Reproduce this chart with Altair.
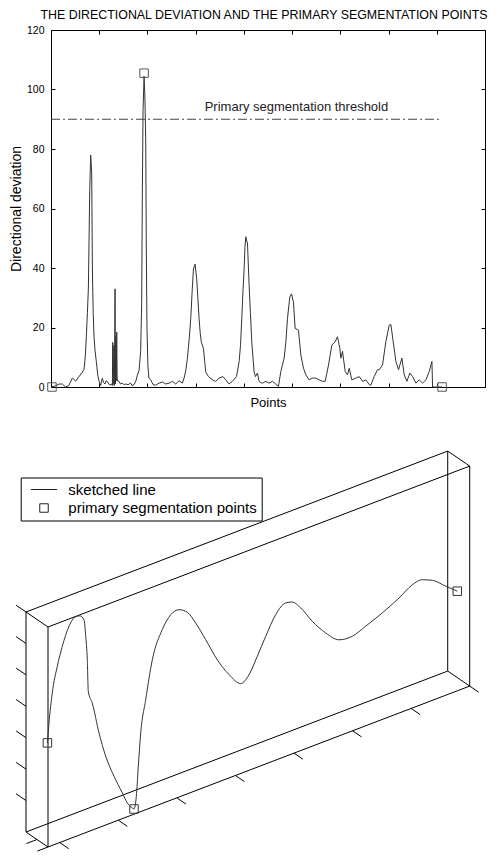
import altair as alt
import numpy as np
import pandas as pd
from itertools import product

FONT = "Liberation Sans"

# ---------------- upper plot: directional deviation ----------------
dev_x = [0, 10, 17, 23.5, 30, 37, 44.3, 51.2, 58.1, 65, 68.5, 71, 73.3, 75.5, 77.5, 80.3, 82.3, 84.4,
         85.8, 87.5, 89.2, 91.5, 94, 97, 99.6, 103, 106.5, 109, 112, 114, 116.9, 120, 122.4, 125,
         127.3, 128, 129, 130.5, 131.5, 132.8, 133.6, 134.5, 135.2, 136.3, 137.2, 138.3, 141.1, 144,
         148, 151, 154.9, 160, 165.3, 168, 172.2, 176, 179.1, 182.6, 185.9, 188, 189.5, 190.9, 193,
         194.4, 195.2, 196.5, 197.5, 199, 201, 203, 206.8, 211.7, 217.2, 224.1, 231, 237.9, 244.9, 251.8,
         258.7, 265.6, 272.5, 276, 279.5, 282.9, 286.5, 289.8, 293, 295.4, 298.8, 302.3, 304.5, 307.1,
         309.5, 311.9, 316.1, 318.5, 320.9, 326.5, 334.8, 341.7, 348.6, 356.9, 362.4, 369.4, 376.3,
         384.6, 390.1, 393, 395.6, 398, 400.5, 402.2, 404, 406, 407.4, 410.9, 413.5, 416.4, 421.2, 424,
         428.1, 431.6, 435, 438.5, 445.4, 452.4, 459.3, 466.2, 471.7, 476.6, 483.5, 487, 490.4, 495.2,
         498.7, 502.8, 506.3, 513.2, 518.1, 523.6, 528.4, 535.4, 542.3, 549.2, 556.1, 563, 568.6,
         575.5, 582.4, 589.3, 594.1, 599, 601, 604.5, 610.1, 614.9, 618.4, 623.9, 632.2, 639.1, 646,
         652.9, 659.9, 663.3, 670.2, 677.1, 680.6, 687.5, 694.4, 701.4, 704.8, 709.7, 715.2, 720.7,
         727.6, 732.5, 738, 744.2, 749.8, 756.7, 763.6, 770.5, 777.4, 784.4, 789.9, 791.3, 811]
dev_y = [0, 0.4, 1, 1, 0, 0.5, 3, 2, 3.5, 5, 6, 10, 17, 25, 33, 66, 78, 72,
         40, 25, 17, 12, 8.5, 4, 2, 0.5, 3, 1.5, 1, 2, 1.9, 1, 0.6, 1,
         0.5, 15, 0.8, 14, 0.5, 33, 1, 17, 2, 18.5, 3, 2, 1.9, 1,
         1.3, 0.8, 1, 0.8, 1.3, 0.5, 0.8, 2, 4, 5.5, 12, 28, 67, 93, 104.5,
         98.8, 94, 82, 50, 20, 7, 3, 2.4, 0.8, 0.6, 1.3, 1.7, 1, 1.3, 1.9,
         1, 2.1, 1.3, 3, 5.5, 9.7, 16, 23, 33, 39.7, 41.3, 36, 30, 23,
         18, 15, 13, 9, 5, 3.5, 2.4, 1.9, 3, 3.5, 2.4, 1, 1.9,
         3.5, 8.5, 14, 23, 32, 39.7, 47, 50.5, 49, 48.4, 34, 25, 15, 5, 3.5,
         4.7, 1.9, 1.5, 1.3, 1.9, 1.3, 1.9, 1, 0.2, 5.2, 9.7, 15, 23, 30.2,
         31.3, 28.5, 19.7, 19.1, 10.8, 6.3, 4.1, 2.4, 3, 3, 2.4, 1.9, 1.9,
         7.4, 14.1, 15.2, 16.9, 13, 9.7, 12, 5.2, 4.1, 6.3, 2.4, 3, 3.5, 1.9,
         2.4, 0.8, 0.6, 3.5, 5.8, 5.8, 7.4, 15.2, 20.8, 21, 15.2, 8.6, 5.8,
         9.7, 4.1, 1.9, 4.7, 3.5, 1.3, 2.4, 1.3, 2.4, 5.2, 8.6, 0, 0]
seg_x = [2, 193, 811]
seg_y = [0, 105.5, 0]
threshold = 90
thr_span = [0, 806]
thr_label = "Primary segmentation threshold"
thr_label_x = 509
x_ticks_top = list(range(0, 901, 100))
y_ticks_top = list(range(0, 121, 20))
X_DOM = [0, 900]
Y_DOM = [0, 120]

# ---------------- lower plot: sketched line in a 3-D box ----------------
curve_x = [0.79, 0.817, 0.873, 0.959, 1.044, 1.159, 1.261, 1.341, 1.415, 1.444, 1.471, 1.488, 1.556,
           1.671, 1.785, 1.927, 2.069, 2.154, 2.239, 2.268, 2.308, 2.342, 2.383, 2.468, 2.581, 2.751,
           2.895, 3.037, 3.178, 3.322, 3.493, 3.691, 3.890, 4.090, 4.232, 4.374, 4.517, 4.688, 4.858,
           4.971, 5.114, 5.313, 5.541, 5.768, 5.995, 6.224, 6.508, 6.793, 7.020, 7.191, 7.361, 7.590,
           7.788]
curve_z = [3.32, 3.93, 4.85, 5.64, 6.21, 6.77, 6.99, 6.97, 6.79, 6.25, 5.48, 4.46, 4.04,
           3.01, 2.19, 1.45, 0.82, 0.44, 0.22, 0.165, 0.54, 1.47, 2.50, 3.50, 4.69, 5.53,
           5.90, 5.96, 5.78, 5.33, 4.68, 3.90, 3.29, 2.86, 3.04, 3.53, 4.06, 4.63, 4.88,
           4.83, 4.54, 3.97, 3.44, 3.06, 3.01, 3.17, 3.39, 3.66, 3.92, 3.96, 3.82, 3.47,
           3.17]
seg3_idx = [0, 19, 52]
X_LIM = [0.8, 8.0]
D_LIM = [0.0, 1.0]
Z_LIM = [0.0, 7.0]
x_ticks3 = [1, 2, 3, 4, 5, 6, 7, 8]
z_ticks3 = [1, 2, 3, 4, 5, 6, 7]
d_ticks3 = [0.0, 0.5]
legend_labels = ["sketched line", "primary segmentation points"]

# viewing projection: screen direction of one unit along x, depth and z
PROJ_X = (58.57, 22.35)
PROJ_D = (-22.0, 15.0)
PROJ_Z = (0.0, 31.43)
U_DOM = [3, 437]
W_DOM = [0, 404]


def project(x, d, z):
    x = np.asarray(x, float) - X_LIM[0]
    d = np.asarray(d, float) - D_LIM[0]
    z = np.asarray(z, float) - Z_LIM[0]
    u = x * PROJ_X[0] + d * PROJ_D[0] + z * PROJ_Z[0]
    w = x * PROJ_X[1] + d * PROJ_D[1] + z * PROJ_Z[1]
    return u, w


# ---------- upper chart ----------
dev_df = pd.DataFrame({"x": dev_x, "y": dev_y})
seg_df = pd.DataFrame({"x": seg_x, "y": seg_y})
thr_df = pd.DataFrame({"x": thr_span, "y": [threshold] * 2})
lab_df = pd.DataFrame({"x": [thr_label_x], "y": [threshold], "t": [thr_label]})

xs = alt.Scale(domain=X_DOM, nice=False, zero=False)
ys = alt.Scale(domain=Y_DOM, nice=False, zero=False)

common_axis = dict(domain=False, grid=False, tickSize=4, tickColor="black", offset=-4,
                   labelFont=FONT, labelFontSize=10.5, labelColor="black",
                   titleFont=FONT, titleFontWeight="normal", titleColor="black")

line_layer = alt.Chart(dev_df).mark_line(color="#333", strokeWidth=1).encode(
    x=alt.X("x:Q", scale=xs, axis=alt.Axis(orient="bottom", values=x_ticks_top, labels=False,
                                           title="Points", titleFontSize=13, titlePadding=8.5,
                                           **common_axis)),
    y=alt.Y("y:Q", scale=ys, axis=alt.Axis(orient="left", values=y_ticks_top, labelPadding=7,
                                           title="Directional deviation", titleFontSize=14,
                                           titlePadding=3, **common_axis)),
    order="x:Q",
)

seg_layer = alt.Chart(seg_df).mark_point(shape="square", filled=False, size=72, color="#555",
                                         strokeWidth=1, opacity=1).encode(
    x=alt.X("x:Q", scale=xs, axis=alt.Axis(orient="top", values=x_ticks_top, labels=False,
                                           title=None, **common_axis)),
    y=alt.Y("y:Q", scale=ys, axis=alt.Axis(orient="right", values=y_ticks_top, labels=False,
                                           title=None, **common_axis)),
)

thr_layer = alt.Chart(thr_df).mark_line(color="#444", strokeWidth=1, strokeDash=[9, 3, 2, 3]).encode(
    x=alt.X("x:Q", scale=xs, axis=None),
    y=alt.Y("y:Q", scale=ys, axis=None),
)

txt_layer = alt.Chart(lab_df).mark_text(font=FONT, fontSize=13, color="#222", align="center",
                                        baseline="alphabetic", dy=-8.5).encode(
    x=alt.X("x:Q", scale=xs, axis=None),
    y=alt.Y("y:Q", scale=ys, axis=None),
    text="t:N",
)

top = alt.layer(line_layer, thr_layer, txt_layer, seg_layer).resolve_axis(
    x="independent", y="independent"
).properties(
    width=434, height=357,
    view=alt.ViewBackground(stroke="black", strokeWidth=1),
    title=alt.TitleParams("THE DIRECTIONAL DEVIATION AND THE PRIMARY SEGMENTATION POINTS",
                          font=FONT, fontSize=12.4, fontWeight="normal", color="black",
                          anchor="middle", offset=4, dx=-4),
)

# ---------- lower chart ----------
rules = []
# box edges: pairs of corners differing in one coordinate
corners = list(product(X_LIM, D_LIM, Z_LIM))
for i, a in enumerate(corners):
    for b in corners[i + 1:]:
        if sum(p != q for p, q in zip(a, b)) == 1:
            rules.append((a, b))
for t in x_ticks3:
    rules.append(((t, D_LIM[0], Z_LIM[0]), (t, D_LIM[0] - 0.41, Z_LIM[0])))
for t in z_ticks3:
    rules.append(((X_LIM[0], D_LIM[1], t), (X_LIM[0], D_LIM[1] + 0.45, t)))
for t in d_ticks3:
    rules.append(((X_LIM[0], t, Z_LIM[0]), (X_LIM[0] - 0.18, t, Z_LIM[0])))

a_pts = np.array([r[0] for r in rules])
b_pts = np.array([r[1] for r in rules])
u1, w1 = project(a_pts[:, 0], a_pts[:, 1], a_pts[:, 2])
u2, w2 = project(b_pts[:, 0], b_pts[:, 1], b_pts[:, 2])
rule_df = pd.DataFrame({"u": u1, "w": w1, "u2": u2, "w2": w2})

cu, cw = project(curve_x, np.zeros(len(curve_x)), curve_z)
curve_df = pd.DataFrame({"u": cu, "w": cw, "i": np.arange(len(cu))})
sq_df = pd.DataFrame({"u": cu[seg3_idx], "w": cw[seg3_idx], "series": legend_labels[1]})

us = alt.Scale(domain=U_DOM, nice=False, zero=False)
ws = alt.Scale(domain=W_DOM, nice=False, zero=False)

box_layer = alt.Chart(rule_df).mark_rule(color="black", strokeWidth=1).encode(
    x=alt.X("u:Q", scale=us, axis=None), y=alt.Y("w:Q", scale=ws, axis=None),
    x2="u2:Q", y2="w2:Q",
)
curve_layer = alt.Chart(curve_df).mark_line(color="#333", strokeWidth=1, interpolate="monotone").encode(
    x=alt.X("u:Q", scale=us, axis=None), y=alt.Y("w:Q", scale=ws, axis=None), order="i:Q",
)
LINE_SYMBOL = "M-3.1,0H3.1"
sq3_layer = alt.Chart(sq_df).mark_point(filled=False, size=72, color="#333", strokeWidth=1,
                                        opacity=1).encode(
    x=alt.X("u:Q", scale=us, axis=None), y=alt.Y("w:Q", scale=ws, axis=None),
    shape=alt.Shape("series:N",
                    scale=alt.Scale(domain=legend_labels, range=[LINE_SYMBOL, "square"]),
                    legend=alt.Legend(orient="none", legendX=-30.3, legendY=34.5, title=None,
                                      strokeColor="black", fillColor="white", padding=4.5,
                                      symbolOffset=11.3, labelOffset=16.8, rowPadding=2.5,
                                      labelFont=FONT, labelFontSize=15, labelColor="black",
                                      labelLimit=400,
                                      symbolSize=72, symbolStrokeWidth=1, symbolStrokeColor="#222",
                                      cornerRadius=0)),
)

bottom = alt.layer(box_layer, curve_layer, sq3_layer).properties(
    width=434, height=404, view=alt.ViewBackground(stroke="transparent"),
)

chart = alt.vconcat(top, bottom, spacing=56, bounds="flush").resolve_scale(
    shape="independent"
).resolve_legend(shape="independent").properties(
    padding=0
).configure_view(stroke="transparent").configure(font=FONT)

chart.save("out.html", embed_options={"renderer": "svg", "actions": False})
